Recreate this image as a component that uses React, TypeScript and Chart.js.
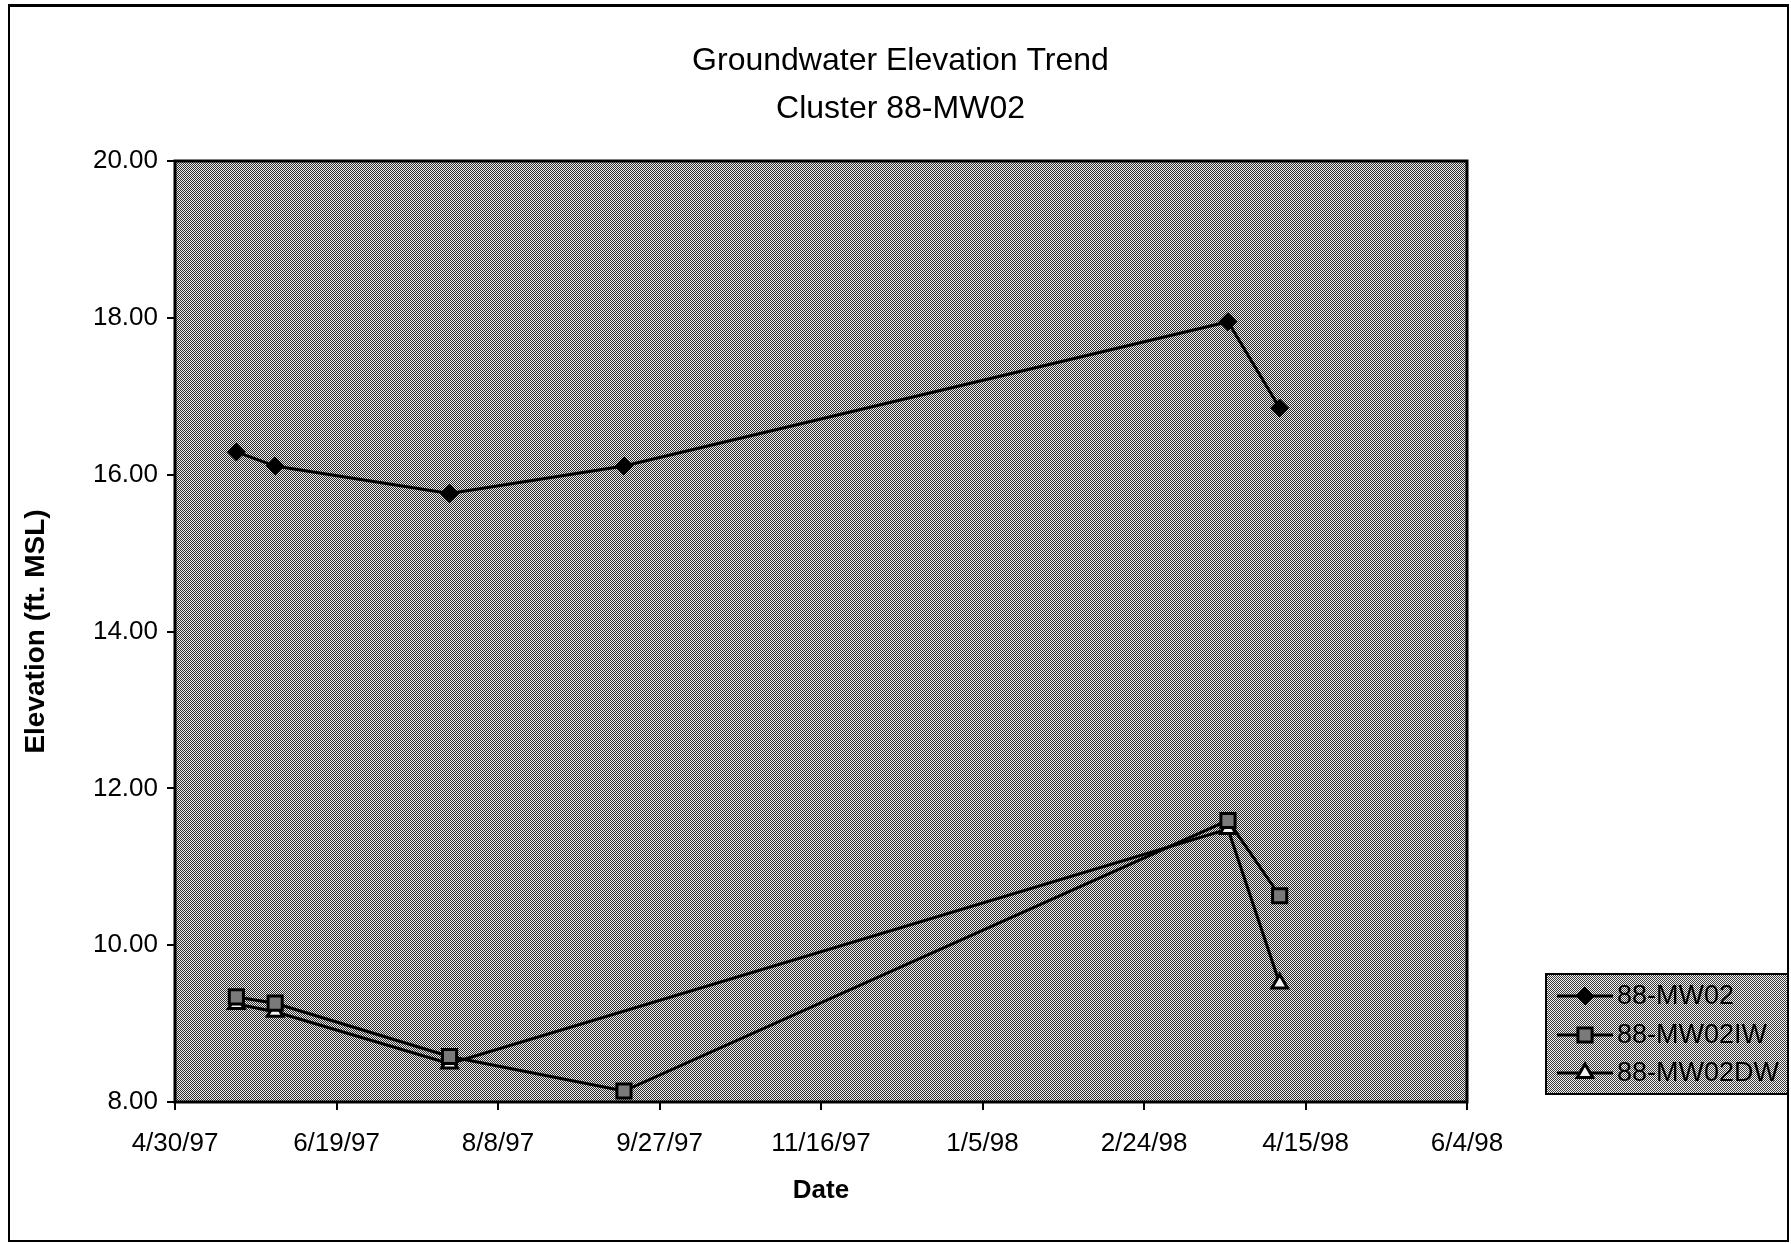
import React, { useEffect, useRef } from 'react';
import { Chart, registerables } from 'chart.js';

Chart.register(...registerables);

// ---------- data ----------
const titleLines = ['Groundwater Elevation Trend', 'Cluster 88-MW02'];
const xAxisTitle = 'Date';
const yAxisTitle = 'Elevation (ft. MSL)';
const seriesNames = ['88-MW02', '88-MW02IW', '88-MW02DW'];
const sampleDates = ['1997-05-19', '1997-05-31', '1997-07-24', '1997-09-16', '1998-03-22', '1998-04-07'];
const mw02Values = [16.29, 16.11, 15.76, 16.11, 17.95, 16.85];
const mw02IWValues = [9.34, 9.26, 8.58, 8.14, 11.59, 10.63];
const mw02DWValues: (number | null)[] = [9.25, 9.15, 8.49, null, 11.48, 9.51];
const xAxisStart = '1997-04-30';
const xAxisEnd = '1998-06-04';
const xTickStepDays = 50;
const yAxisMin = 8;
const yAxisMax = 20;
const yAxisStep = 2;

// ---------- helpers ----------
const FONT = '"Liberation Sans", Arial, Helvetica, sans-serif';

function toDay(s: string): number {
  const [y, m, d] = s.split('-').map(Number);
  return Date.UTC(y, m - 1, d) / 86400000;
}

function fmtDay(n: number): string {
  const d = new Date(Math.round(n) * 86400000);
  return `${d.getUTCMonth() + 1}/${d.getUTCDate()}/${String(d.getUTCFullYear()).slice(2)}`;
}

function makePattern(ctx: CanvasRenderingContext2D, dark: string, light: string) {
  const c = document.createElement('canvas');
  c.width = 2;
  c.height = 2;
  const g = c.getContext('2d')!;
  g.fillStyle = light;
  g.fillRect(0, 0, 2, 2);
  g.fillStyle = dark;
  g.fillRect(0, 0, 1, 1);
  g.fillRect(1, 1, 1, 1);
  return ctx.createPattern(c, 'repeat')!;
}

function drawMarker(
  ctx: CanvasRenderingContext2D,
  style: string,
  x: number,
  y: number,
  r: number,
  fill: string,
  stroke: string,
  bw: number
) {
  ctx.save();
  ctx.beginPath();
  if (style === 'rectRot') {
    ctx.moveTo(x, y - r);
    ctx.lineTo(x + r, y);
    ctx.lineTo(x, y + r);
    ctx.lineTo(x - r, y);
    ctx.closePath();
  } else if (style === 'rect') {
    const s = r * Math.SQRT1_2;
    ctx.rect(x - s, y - s, 2 * s, 2 * s);
  } else if (style === 'triangle') {
    let a = 0;
    ctx.moveTo(x + Math.sin(a) * r, y - Math.cos(a) * r);
    a += (2 * Math.PI) / 3;
    ctx.lineTo(x + Math.sin(a) * r, y - Math.cos(a) * r);
    a += (2 * Math.PI) / 3;
    ctx.lineTo(x + Math.sin(a) * r, y - Math.cos(a) * r);
    ctx.closePath();
  }
  ctx.fillStyle = fill;
  ctx.fill();
  ctx.lineWidth = bw;
  ctx.strokeStyle = stroke;
  ctx.stroke();
  ctx.restore();
}

const decorPlugin = {
  id: 'decor',
  beforeDraw(chart: any) {
    const { ctx, width, height } = chart;
    ctx.save();
    ctx.fillStyle = '#ffffff';
    ctx.fillRect(0, 0, width, height);
    ctx.strokeStyle = '#000';
    ctx.lineWidth = 2;
    ctx.strokeRect(9, 5, width - 12, height - 8);
    ctx.fillStyle = '#000';
    ctx.fillRect(9, 4, width - 12, 3);
    ctx.restore();
  },
  beforeDatasetsDraw(chart: any) {
    const { ctx, chartArea } = chart;
    const { left, top, right, bottom } = chartArea;
    ctx.save();
    ctx.fillStyle = makePattern(ctx, '#2e2e2e', '#ececec');
    ctx.fillRect(left, top, right - left, bottom - top);
    ctx.strokeStyle = '#000';
    ctx.lineWidth = 3;
    ctx.strokeRect(left, top, right - left, bottom - top);
    ctx.restore();
  },
  afterDraw(chart: any) {
    const { ctx } = chart;
    const bx = 1546;
    const by = 974;
    const bw = 242;
    const bh = 120;
    ctx.save();
    ctx.fillStyle = makePattern(ctx, '#3a3a3a', '#f2f2f2');
    ctx.fillRect(bx, by, bw, bh);
    ctx.strokeStyle = '#000';
    ctx.lineWidth = 2;
    ctx.strokeRect(bx, by, bw, bh);
    const rowY = [996, 1035, 1073];
    chart.data.datasets.forEach((ds: any, i: number) => {
      const y = rowY[i];
      ctx.beginPath();
      ctx.moveTo(1557, y);
      ctx.lineTo(1613, y);
      ctx.lineWidth = 3;
      ctx.strokeStyle = '#000';
      ctx.stroke();
      drawMarker(ctx, ds.pointStyle, 1585, y, ds.pointRadius, ds.pointBackgroundColor, ds.pointBorderColor, ds.pointBorderWidth);
      ctx.fillStyle = '#000';
      ctx.font = `27px ${FONT}`;
      ctx.textAlign = 'left';
      ctx.textBaseline = 'middle';
      ctx.fillText(ds.label, 1617, y + 1);
    });
    ctx.restore();
  },
};

export default function App() {
  const canvasRef = useRef<HTMLCanvasElement | null>(null);

  useEffect(() => {
    document.body.style.margin = '0';
    document.body.style.overflow = 'hidden';
    const canvas = canvasRef.current;
    if (!canvas) return;

    const toPoints = (vals: (number | null)[]) =>
      sampleDates.map((d, i) => ({ x: toDay(d), y: vals[i] }));

    const chart = new Chart(canvas, {
      type: 'line',
      data: {
        datasets: [
          {
            label: seriesNames[0],
            data: toPoints(mw02Values),
            borderColor: '#000',
            borderWidth: 3,
            pointStyle: 'rectRot',
            pointRadius: 9,
            pointBackgroundColor: '#000',
            pointBorderColor: '#000',
            pointBorderWidth: 1,
            tension: 0,
          },
          {
            label: seriesNames[1],
            data: toPoints(mw02IWValues),
            borderColor: '#000',
            borderWidth: 3,
            pointStyle: 'rect',
            pointRadius: 10,
            pointBackgroundColor: '#7a7a7a',
            pointBorderColor: '#000',
            pointBorderWidth: 3,
            tension: 0,
          },
          {
            label: seriesNames[2],
            data: toPoints(mw02DWValues),
            borderColor: '#000',
            borderWidth: 3,
            pointStyle: 'triangle',
            pointRadius: 9,
            pointBackgroundColor: '#f4f4f4',
            pointBorderColor: '#000',
            pointBorderWidth: 3,
            tension: 0,
            spanGaps: true,
          },
        ] as any,
      },
      options: {
        animation: false,
        responsive: false,
        devicePixelRatio: 1,
        layout: { padding: { left: 10, right: 0, top: 0, bottom: 0 } },
        plugins: {
          legend: { display: false },
          tooltip: { enabled: false },
          title: {
            display: true,
            text: titleLines,
            color: '#000',
            font: { family: FONT, size: 32, weight: 'normal', lineHeight: 1.5 },
            padding: { top: 37, bottom: 28 },
          },
        },
        scales: {
          x: {
            type: 'linear',
            min: toDay(xAxisStart),
            max: toDay(xAxisEnd),
            afterFit: (s: any) => {
              s.height = 142;
            },
            ticks: {
              stepSize: xTickStepDays,
              callback: (v: any) => fmtDay(Number(v)),
              color: '#000',
              font: { family: FONT, size: 26 },
              padding: 18,
              maxRotation: 0,
              autoSkip: false,
            },
            grid: {
              display: true,
              drawOnChartArea: false,
              drawTicks: true,
              tickLength: 8,
              color: '#000',
              lineWidth: 2,
            },
            border: { display: false },
            title: {
              display: true,
              text: xAxisTitle,
              color: '#000',
              font: { family: FONT, size: 26, weight: 'bold' },
              padding: { top: 38, bottom: 38 },
            },
          },
          y: {
            type: 'linear',
            position: 'left',
            min: yAxisMin,
            max: yAxisMax,
            afterFit: (s: any) => {
              s.width = 165;
            },
            ticks: {
              stepSize: yAxisStep,
              callback: (v: any) => Number(v).toFixed(2),
              color: '#000',
              font: { family: FONT, size: 26 },
              padding: 9,
            },
            grid: {
              display: true,
              drawOnChartArea: false,
              drawTicks: true,
              tickLength: 8,
              color: '#000',
              lineWidth: 2,
            },
            border: { display: false },
            title: {
              display: true,
              text: yAxisTitle,
              color: '#000',
              font: { family: FONT, size: 28, weight: 'bold' },
              padding: { top: 9, bottom: 9 },
            },
          },
          yRight: {
            type: 'linear',
            position: 'right',
            min: yAxisMin,
            max: yAxisMax,
            afterFit: (s: any) => {
              s.width = 324;
            },
            ticks: { display: false },
            grid: { display: false },
            border: { display: false },
          },
        },
      } as any,
      plugins: [decorPlugin],
    });

    return () => chart.destroy();
  }, []);

  return (
    <div style={{ width: 1791, height: 1244 }}>
      <canvas ref={canvasRef} width={1791} height={1244} style={{ display: 'block' }} />
    </div>
  );
}
